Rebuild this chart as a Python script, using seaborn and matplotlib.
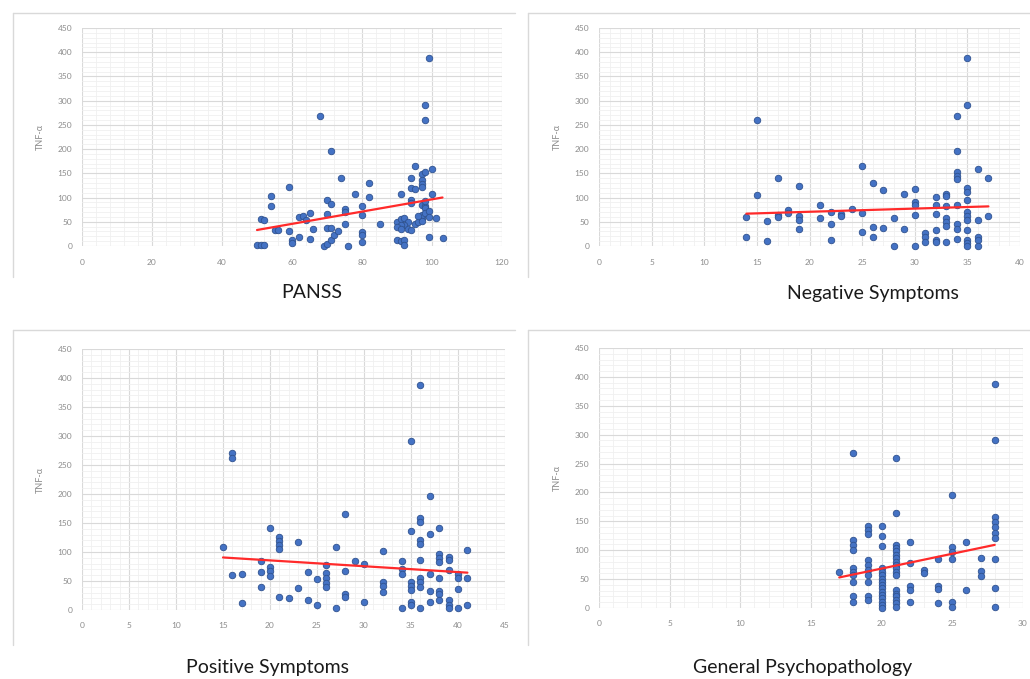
import matplotlib
matplotlib.use("Agg")
import matplotlib.pyplot as plt
import seaborn as sns
import pandas as pd
from matplotlib.ticker import MultipleLocator
from matplotlib.lines import Line2D

sns.set_style("white")
plt.rcParams['font.family'] = ['Lato', 'DejaVu Sans']

# ---------------- data ----------------
titles = ["PANSS", "Negative Symptoms", "Positive Symptoms", "General Psychopathology"]
y_label = "TNF-α"

panss_x = [50, 51, 52, 51, 52, 55, 56, 54, 54, 59, 59, 60, 60, 62, 65, 66, 62, 63, 65, 64,
           68, 71, 74, 70, 71, 70, 70, 71, 69, 70, 71, 72, 73, 75, 75, 75, 76, 78, 80, 80,
           80, 80, 80, 82, 82, 85, 90, 91, 92, 92, 90, 91, 92, 93, 92, 91, 90, 91, 93, 94,
           91, 94, 94, 95, 95, 94, 94, 97, 98, 100, 97, 97, 97, 97, 98, 98, 98, 95, 96, 97,
           97, 97, 98, 99, 99, 96, 99, 98, 98, 100, 101, 99, 103]
panss_y = [2, 2, 2, 56, 53, 33, 33, 103, 82, 121, 30, 12, 6, 18, 14, 35, 60, 62, 68, 54,
           268, 197, 140, 95, 87, 67, 38, 38, 1, 5, 12, 22, 30, 77, 70, 45, 1, 108, 83, 63,
           29, 22, 8, 130, 102, 46, 13, 10, 12, 3, 50, 55, 57, 50, 43, 43, 40, 35, 35, 33,
           107, 141, 120, 118, 165, 95, 88, 148, 153, 159, 136, 128, 122, 85, 82, 92, 78, 46, 50, 58,
           65, 52, 68, 72, 60, 62, 389, 292, 260, 108, 57, 19, 17]

neg_x = [14, 14, 15, 15, 16, 16, 17, 17, 17, 18, 18, 19, 19, 19, 19, 21, 21, 22, 22, 22,
         23, 23, 24, 25, 25, 25, 26, 26, 26, 27, 27, 28, 28, 29, 29, 30, 30, 30, 30, 30,
         31, 31, 31, 32, 32, 32, 32, 32, 32, 33, 33, 33, 33, 33, 33, 33, 34, 34, 34, 34,
         34, 34, 34, 34, 34, 35, 35, 35, 35, 35, 35, 35, 35, 35, 35, 35, 35, 36, 36, 36,
         36, 36, 37, 37]
neg_y = [60, 19, 260, 106, 51, 10, 140, 63, 60, 74, 69, 124, 61, 54, 36, 84, 57, 70, 45, 12,
         67, 61, 76, 166, 69, 28, 131, 40, 18, 116, 38, 57, 1, 107, 35, 117, 91, 85, 63, 1,
         26, 19, 9, 102, 84, 67, 32, 12, 8, 108, 104, 83, 57, 50, 42, 9, 268, 197, 152, 145,
         138, 85, 46, 36, 14, 389, 292, 120, 112, 95, 70, 61, 54, 32, 12, 6, 1, 159, 54, 19,
         12, 1, 140, 62]

pos_x = [15, 16, 16, 16, 17, 17, 19, 19, 19, 20, 20, 20, 20, 21, 21, 21, 21, 21, 22, 23,
         23, 24, 24, 25, 25, 26, 26, 26, 26, 26, 27, 27, 28, 28, 28, 28, 29, 30, 30, 32,
         32, 32, 32, 34, 34, 34, 34, 35, 35, 35, 35, 35, 35, 35, 36, 36, 36, 36, 36, 36,
         36, 36, 36, 36, 37, 37, 37, 37, 37, 38, 38, 38, 38, 38, 38, 38, 38, 39, 39, 39,
         39, 39, 39, 40, 40, 40, 40, 41, 41, 41]
pos_y = [108, 270, 262, 60, 62, 12, 84, 65, 40, 141, 75, 68, 59, 126, 119, 112, 106, 22, 21, 118,
         38, 66, 18, 54, 9, 78, 63, 55, 47, 39, 109, 3, 165, 67, 28, 22, 84, 79, 13, 102,
         48, 41, 31, 85, 70, 62, 3, 292, 137, 48, 41, 34, 14, 8, 388, 158, 152, 121, 114, 86,
         56, 48, 40, 3, 197, 131, 62, 33, 13, 141, 97, 89, 82, 56, 33, 27, 17, 92, 86, 69,
         17, 8, 3, 62, 56, 36, 3, 103, 55, 9]

gen_x = [17, 18, 18, 18, 18, 18, 18, 18, 18, 18, 18, 19, 19, 19, 19, 19, 19, 19, 19, 19,
         19, 20, 20, 20, 20, 20, 20, 20, 20, 20, 20, 20, 20, 20, 20, 20, 20, 21, 21, 21,
         21, 21, 21, 21, 21, 21, 21, 21, 21, 21, 21, 21, 21, 21, 21, 22, 22, 22, 22, 22,
         23, 23, 24, 24, 24, 24, 25, 25, 25, 25, 25, 25, 26, 26, 27, 27, 27, 28, 28, 28,
         28, 28, 28, 28, 28, 28, 28]
gen_y = [62, 269, 118, 109, 100, 69, 63, 57, 45, 20, 11, 142, 135, 128, 83, 74, 66, 57, 45, 20,
         13, 142, 124, 107, 69, 63, 57, 51, 45, 40, 34, 28, 22, 17, 11, 5, 0, 259, 164, 109,
         104, 98, 92, 86, 80, 75, 69, 63, 57, 31, 25, 20, 14, 8, 2, 115, 78, 38, 31, 10,
         66, 60, 84, 38, 33, 8, 195, 106, 97, 84, 11, 2, 115, 31, 86, 64, 55, 388, 291, 158,
         149, 141, 129, 121, 84, 34, 1]

x_max = [120, 40, 45, 30]
x_major = [20, 5, 5, 5]
x_minor = [4, 1, 1, 1]

# ---------------- layout ----------------
W, H = 1030, 679
fig = plt.figure(figsize=(W / 100, H / 100), dpi=100)

# axes boxes in pixels: (left, top, right, bottom)
boxes = [(82, 28, 502, 246), (599, 28, 1020, 246),
         (82, 349, 505, 610), (599, 348, 1023, 608)]
title_pos = [(312, 293), (873, 293), (268, 668), (803, 668)]
frames = [(13, 13, 515, 277), (528, 13, 1030, 277),
          (13, 330, 515, 645), (528, 330, 1030, 645)]

datasets = [(panss_x, panss_y), (neg_x, neg_y), (pos_x, pos_y), (gen_x, gen_y)]

tick_col = '#8c8c8c'
for i, (xs, ys) in enumerate(datasets):
    l, t, r, b = boxes[i]
    ax = fig.add_axes([l / W, 1 - b / H, (r - l) / W, (b - t) / H])
    df = pd.DataFrame({'x': xs, 'y': ys})
    sns.regplot(data=df, x='x', y='y', ax=ax, ci=None, truncate=True,
                scatter_kws=dict(s=22, color='#4472c4', edgecolor='#2f528f',
                                 linewidths=0.6, alpha=1, clip_on=False, zorder=3),
                line_kws=dict(color='#ff2a2a', lw=1.6, zorder=4))
    ax.set_xlim(0, x_max[i])
    ax.set_ylim(0, 450)
    ax.xaxis.set_major_locator(MultipleLocator(x_major[i]))
    ax.xaxis.set_minor_locator(MultipleLocator(x_minor[i]))
    ax.yaxis.set_major_locator(MultipleLocator(50))
    ax.yaxis.set_minor_locator(MultipleLocator(10))
    ax.grid(which='major', color='#d9d9d9', lw=0.8)
    ax.grid(which='minor', color='#f0f0f0', lw=0.6)
    ax.set_axisbelow(True)
    for s in ax.spines.values():
        s.set_visible(False)
    ax.tick_params(which='both', length=0, labelsize=6, labelcolor=tick_col)
    ax.tick_params(axis='x', pad=9)
    ax.tick_params(axis='y', pad=7)
    ax.set_xlabel('')
    ax.set_ylabel(y_label, fontsize=6.5, color=tick_col, labelpad=9)

    tx, ty = title_pos[i]
    fig.text(tx / W, 1 - ty / H, titles[i], ha='center', va='center',
             fontsize=14, color='#1a1a1a')

    fl, ft, fr, fb = frames[i]
    fig.add_artist(Line2D([fl / W, fr / W], [1 - ft / H, 1 - ft / H],
                          transform=fig.transFigure, color='#d9d9d9', lw=1))
    fig.add_artist(Line2D([fl / W, fl / W], [1 - ft / H, 1 - fb / H],
                          transform=fig.transFigure, color='#d9d9d9', lw=1))

fig.savefig("out.png", dpi=100, facecolor='white')
